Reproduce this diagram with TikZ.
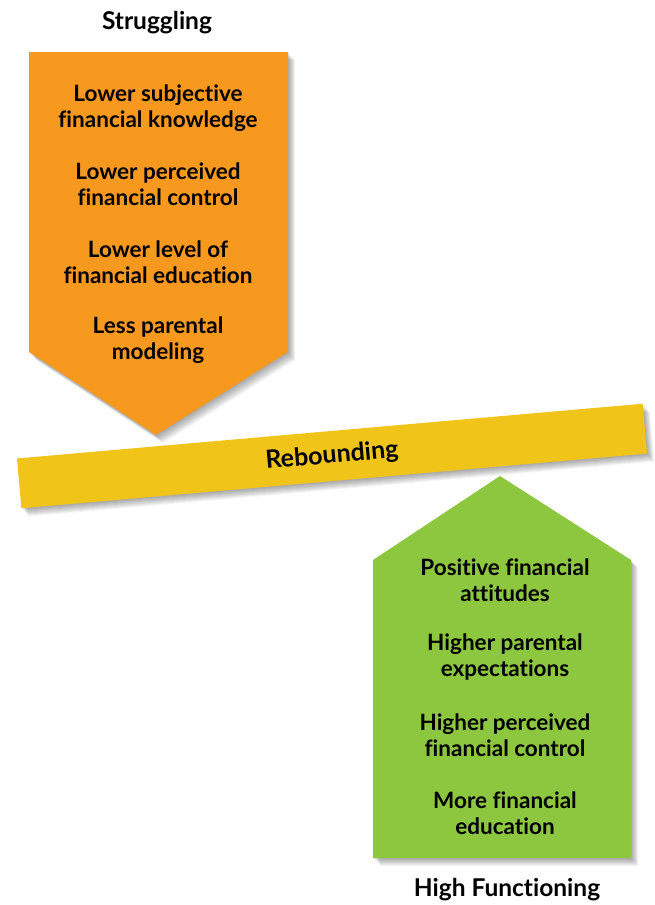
\documentclass[tikz,border=0pt]{standalone}
\usepackage{fontspec}
\setmainfont{Lato}[Ligatures=NoCommon]
\definecolor{orangeC}{HTML}{F7991F}
\definecolor{yellowC}{HTML}{F0C419}
\definecolor{greenC}{HTML}{8DC63F}
\tikzset{
  itemtext/.style={align=center, font=\bfseries\fontsize{22.5}{26}\selectfont, text=black, inner sep=0pt},
  titletext/.style={font=\bfseries\fontsize{24.5}{28}\selectfont, text=black, inner sep=0pt},
  shadowlayer/.style={fill=black, opacity=0.045},
  barshape/.style={minimum width=628pt, minimum height=50pt, inner sep=0pt, rotate=5},
}
\begin{document}
\begin{tikzpicture}[x=1pt,y=-1pt]
\useasboundingbox (0,0) rectangle (654,905);
\def\orangepath{(29,52) -- (288,52) -- (288,352) -- (156,435) -- (29,352) -- cycle}
\def\greenpath{(373,560) -- (500,476) -- (631,560) -- (631,858) -- (373,858) -- cycle}
% shadows
\foreach \s in {1,...,9} {
  \fill[shadowlayer, shift={(\s*0.8,\s*0.9)}] \orangepath;
  \fill[shadowlayer, shift={(\s*0.8,\s*0.9)}] \greenpath;
  \node[shadowlayer, barshape] at (332+\s*0.8,456+\s*0.9) {};
}
% shapes
\fill[orangeC] \orangepath;
\fill[greenC] \greenpath;
\node[fill=yellowC, barshape, font=\bfseries\fontsize{25}{28}\selectfont] (bar) at (332,456) {Rebounding};
% titles
\node[titletext] (struggling) at (157,23) {Struggling};
\node[titletext] (highf) at (507,890) {High Functioning};
% orange items
\node[itemtext] (o1) at (158,108) {Lower subjective\\financial knowledge};
\node[itemtext] (o2) at (158,184) {Lower perceived\\financial control};
\node[itemtext] (o3) at (158,262) {Lower level of\\financial education};
\node[itemtext] (o4) at (158,340) {Less parental\\modeling};
% green items
\node[itemtext] (g1) at (505,580) {Positive financial\\attitudes};
\node[itemtext] (g2) at (505,657) {Higher parental\\expectations};
\node[itemtext] (g3) at (505,735) {Higher perceived\\financial control};
\node[itemtext] (g4) at (505,813) {More financial\\education};
\end{tikzpicture}
\end{document}
